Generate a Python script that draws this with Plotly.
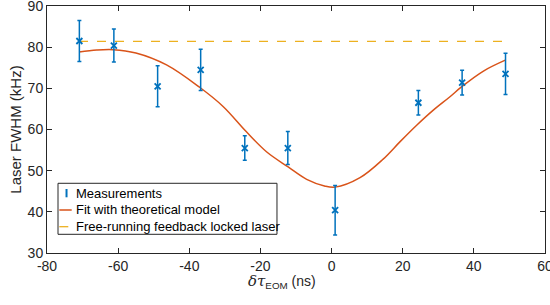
import plotly.graph_objects as go

# Measurements
meas_x = [-70.9, -61.2, -48.9, -36.8, -24.4, -12.3, 1.0, 24.4, 36.7, 48.9]
meas_y = [81.5, 80.4, 70.5, 74.5, 55.5, 55.5, 40.4, 66.5, 71.4, 73.5]
meas_err = [5.0, 4.0, 5.0, 5.0, 3.0, 4.0, 6.0, 3.0, 3.0, 5.0]

# Fit with theoretical model
fit_x = [-71, -66, -61.4, -55, -46.4, -37, -30.5, -24, -18.3, -12.2, -7, -2, 1,
         8, 14.5, 19.2, 24, 28.6, 33.2, 36.6, 42.7, 49]
fit_y = [78.8, 79.3, 79.4, 78.6, 75.7, 70.2, 65.6, 59.5, 54.6, 50.9, 47.9, 46.3, 46.0,
         48.3, 52.8, 57.0, 61.1, 64.7, 67.9, 70.4, 74.2, 76.9]

# Free-running feedback locked laser level
free_x = [-71, 49]
free_y = [81.4, 81.4]

x_ticks = [-80, -60, -40, -20, 0, 20, 40, 60]
x_tick_labels = ["-80", "-60", "-40", "-20", "0", "20", "40", "60"]
y_ticks = [30, 40, 50, 60, 70, 80, 90]
y_tick_labels = ["30", "40", "50", "60", "70", "80", "90"]

legend_labels = ["Measurements", "Fit with theoretical model", "Free-running feedback locked laser"]

BLUE = "#0072BD"
ORANGE = "#D95319"
YELLOW = "#EDB120"
FONT = "Liberation Sans, Arial, sans-serif"
AX = "#262626"

fig = go.Figure()

fig.add_trace(go.Scatter(
    x=free_x, y=free_y, mode="lines",
    line=dict(color=YELLOW, width=1.3, dash="dash"),
    showlegend=False, hoverinfo="skip"))

fig.add_trace(go.Scatter(
    x=fit_x, y=fit_y, mode="lines", line_shape="spline",
    line=dict(color=ORANGE, width=1.5, smoothing=1.0),
    showlegend=False))

fig.add_trace(go.Scatter(
    x=meas_x, y=meas_y, mode="markers",
    marker=dict(symbol="x-thin", size=6, line=dict(color=BLUE, width=1.8), color=BLUE),
    error_y=dict(type="data", array=meas_err, visible=True, color=BLUE, thickness=1.5, width=2),
    showlegend=False))

axis_common = dict(
    showline=True, linecolor=AX, linewidth=1, mirror="ticks",
    ticks="inside", ticklen=5, tickcolor=AX, tickwidth=1,
    showgrid=False, zeroline=False, automargin=False,
    ticklabeloverflow="allow",
    tickfont=dict(family=FONT, size=14, color=AX),
)

fig.update_xaxes(range=[-80, 60], tickvals=x_ticks, ticktext=x_tick_labels, **axis_common)
fig.update_yaxes(range=[30, 90], tickvals=y_ticks, ticktext=y_tick_labels,
                 title=dict(text="Laser FWHM (kHz)", font=dict(family=FONT, size=15, color=AX), standoff=2),
                 **axis_common)

# x-axis title as annotation (TeX-like delta tau)
fig.add_annotation(
    text="<span style='font-family:DejaVu Serif;font-size:15px'><i>δτ</i></span><sub>EOM</sub> (ns)",
    xref="paper", yref="paper", x=0.471, y=-0.115, xanchor="center", yanchor="middle",
    showarrow=False, font=dict(family=FONT, size=14, color=AX))

# Manual legend box (paper coordinates of the plot area)
fig.add_shape(type="rect", xref="paper", yref="paper", x0=0.0221, x1=0.4618, y0=0.0757, y1=0.2822,
              line=dict(color=AX, width=1), fillcolor="white", layer="above")
fig.add_shape(type="line", xref="paper", yref="paper", x0=0.0392, x1=0.0392, y0=0.2255, y1=0.2591,
              line=dict(color=BLUE, width=2), layer="above")
fig.add_shape(type="line", xref="paper", yref="paper", x0=0.0247, x1=0.0496, y0=0.1741, y1=0.1741,
              line=dict(color=ORANGE, width=1.5), layer="above")
fig.add_shape(type="line", xref="paper", yref="paper", x0=0.0247, x1=0.0496, y0=0.1065, y1=0.1065,
              line=dict(color=YELLOW, width=1.3, dash="dash"), layer="above")
for lbl, yy in zip(legend_labels, [0.2389, 0.1741, 0.1065]):
    fig.add_annotation(text=lbl, xref="paper", yref="paper", x=0.0542, y=yy,
                       xanchor="left", yanchor="middle", showarrow=False,
                       font=dict(family=FONT, size=13, color="#000000"))

fig.update_layout(
    width=550, height=305,
    margin=dict(l=47, r=5, t=6, b=52, autoexpand=False),
    paper_bgcolor="white", plot_bgcolor="white",
    font=dict(family=FONT, color=AX),
    showlegend=False,
)

fig.write_html("out.html", config={"displayModeBar": False},
               post_script="document.body.style.margin='0';")
